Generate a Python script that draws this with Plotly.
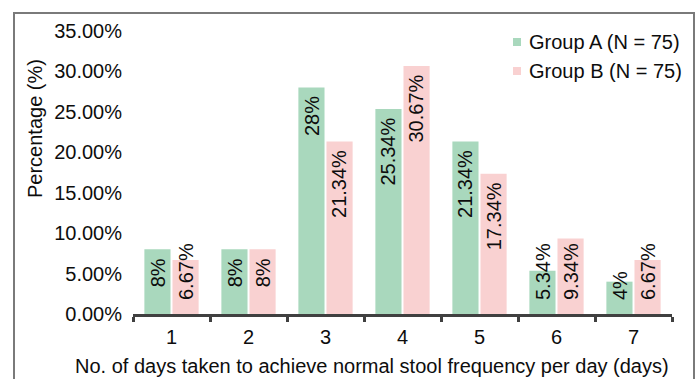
import plotly.graph_objects as go

# Days taken to reach normal stool frequency, share of patients per group
days = ["1", "2", "3", "4", "5", "6", "7"]
group_names = ["Group A (N = 75)", "Group B (N = 75)"]
group_a = [8, 8, 28, 25.34, 21.34, 5.34, 4]
group_b = [6.67, 8, 21.34, 30.67, 17.34, 9.34, 6.67]
label_a = ["8%", "8%", "28%", "25.34%", "21.34%", "5.34%", "4%"]
label_b = ["6.67%", "8%", "21.34%", "30.67%", "17.34%", "9.34%", "6.67%"]
y_ticks = [0, 5, 10, 15, 20, 25, 30, 35]
y_tick_text = ["0.00%", "5.00%", "10.00%", "15.00%", "20.00%", "25.00%", "30.00%", "35.00%"]

GREEN = "#a9d8bd"
PINK = "#f9d1d1"
FONT = "Liberation Sans, Arial, sans-serif"
FS = 20
TXT = "#0d0d0d"

W, H = 696, 379
ML, MR, MT, MB = 133, 24, 31, 65
PW, PH = W - ML - MR, H - MT - MB
Y_MAX = 35
PX_PER_UNIT = PH / Y_MAX


def px_x(px):
    return (px - ML) / PW


def px_y(py):
    return (H - MB - py) / PH


# approximate Arial advance widths (em) for label sizing
CHAR_W = {".": 0.278, "%": 0.889}


def text_len_px(s, size):
    return sum(CHAR_W.get(c, 0.556) for c in s) * size


fig = go.Figure()
fig.add_trace(go.Bar(x=days, y=group_a, name=group_names[0], marker_color=GREEN,
                     marker_line_width=0, showlegend=False))
fig.add_trace(go.Bar(x=days, y=group_b, name=group_names[1], marker_color=PINK,
                     marker_line_width=0, showlegend=False))

annotations = []
# value labels, rotated, sitting at the top inside each bar
offsets = [-0.1818, 0.1818]
for vals, labels, off in ((group_a, label_a, offsets[0]), (group_b, label_b, offsets[1])):
    for i, (v, lab) in enumerate(zip(vals, labels)):
        tl = text_len_px(lab, FS)
        top_px = v * PX_PER_UNIT - 7
        bottom_px = top_px - tl
        if bottom_px < 12:
            y_val, anchor = 12 / PX_PER_UNIT, "bottom"
        else:
            y_val, anchor = v - 7 / PX_PER_UNIT, "top"
        annotations.append(dict(
            x=i + off, y=y_val, xref="x", yref="y", text=lab, textangle=-90,
            showarrow=False, xanchor="center", yanchor=anchor,
            font=dict(family=FONT, size=FS, color=TXT)))

# category labels under the axis
for i, d in enumerate(days):
    annotations.append(dict(x=i, y=px_y(337), xref="x", yref="paper", text=d,
                            showarrow=False, xanchor="center", yanchor="middle",
                            font=dict(family=FONT, size=FS, color=TXT)))

# axis titles
annotations.append(dict(x=px_x(35), y=px_y(129), xref="paper", yref="paper",
                        text="Percentage (%)", textangle=-90, showarrow=False,
                        xanchor="center", yanchor="middle",
                        font=dict(family=FONT, size=FS, color=TXT)))
annotations.append(dict(x=px_x(372), y=px_y(366), xref="paper", yref="paper",
                        text="No. of days taken to achieve normal stool frequency per day (days)",
                        showarrow=False, xanchor="center", yanchor="middle",
                        font=dict(family=FONT, size=FS, color=TXT)))

shapes = []
# legend
for name, color, cy in ((group_names[0], GREEN, 42), (group_names[1], PINK, 71)):
    shapes.append(dict(type="rect", xref="paper", yref="paper",
                       x0=px_x(513), x1=px_x(521), y0=px_y(cy + 4), y1=px_y(cy - 4),
                       fillcolor=color, line_width=0))
    annotations.append(dict(x=px_x(527), y=px_y(cy), xref="paper", yref="paper",
                            text=name, showarrow=False, xanchor="left", yanchor="middle",
                            font=dict(family=FONT, size=FS, color=TXT)))

# outer frame
shapes.append(dict(type="rect", xref="paper", yref="paper",
                   x0=px_x(14), x1=px_x(694), y0=px_y(400), y1=px_y(13),
                   line=dict(color="#7a7a7a", width=2), fillcolor="rgba(0,0,0,0)"))

fig.update_layout(
    width=W, height=H,
    margin=dict(l=ML, r=MR, t=MT, b=MB),
    paper_bgcolor="white", plot_bgcolor="white",
    barmode="group", bargap=0.27, bargroupgap=0.07,
    font=dict(family=FONT, size=FS, color=TXT),
    annotations=annotations, shapes=shapes,
    showlegend=False,
)
fig.update_xaxes(type="category", range=[-0.5, len(days) - 0.5],
                 showline=True, linecolor="#404040", linewidth=3,
                 ticks="outside", tickson="boundaries", ticklen=5, tickwidth=3,
                 tickcolor="#404040", showgrid=False, zeroline=False,
                 showticklabels=False)
fig.update_yaxes(range=[0, Y_MAX], tickvals=y_ticks, ticktext=y_tick_text,
                 showgrid=False, zeroline=False, showline=False, ticks="",
                 ticklabelstandoff=10,
                 tickfont=dict(family=FONT, size=FS, color=TXT))

fig.write_html("out.html")
